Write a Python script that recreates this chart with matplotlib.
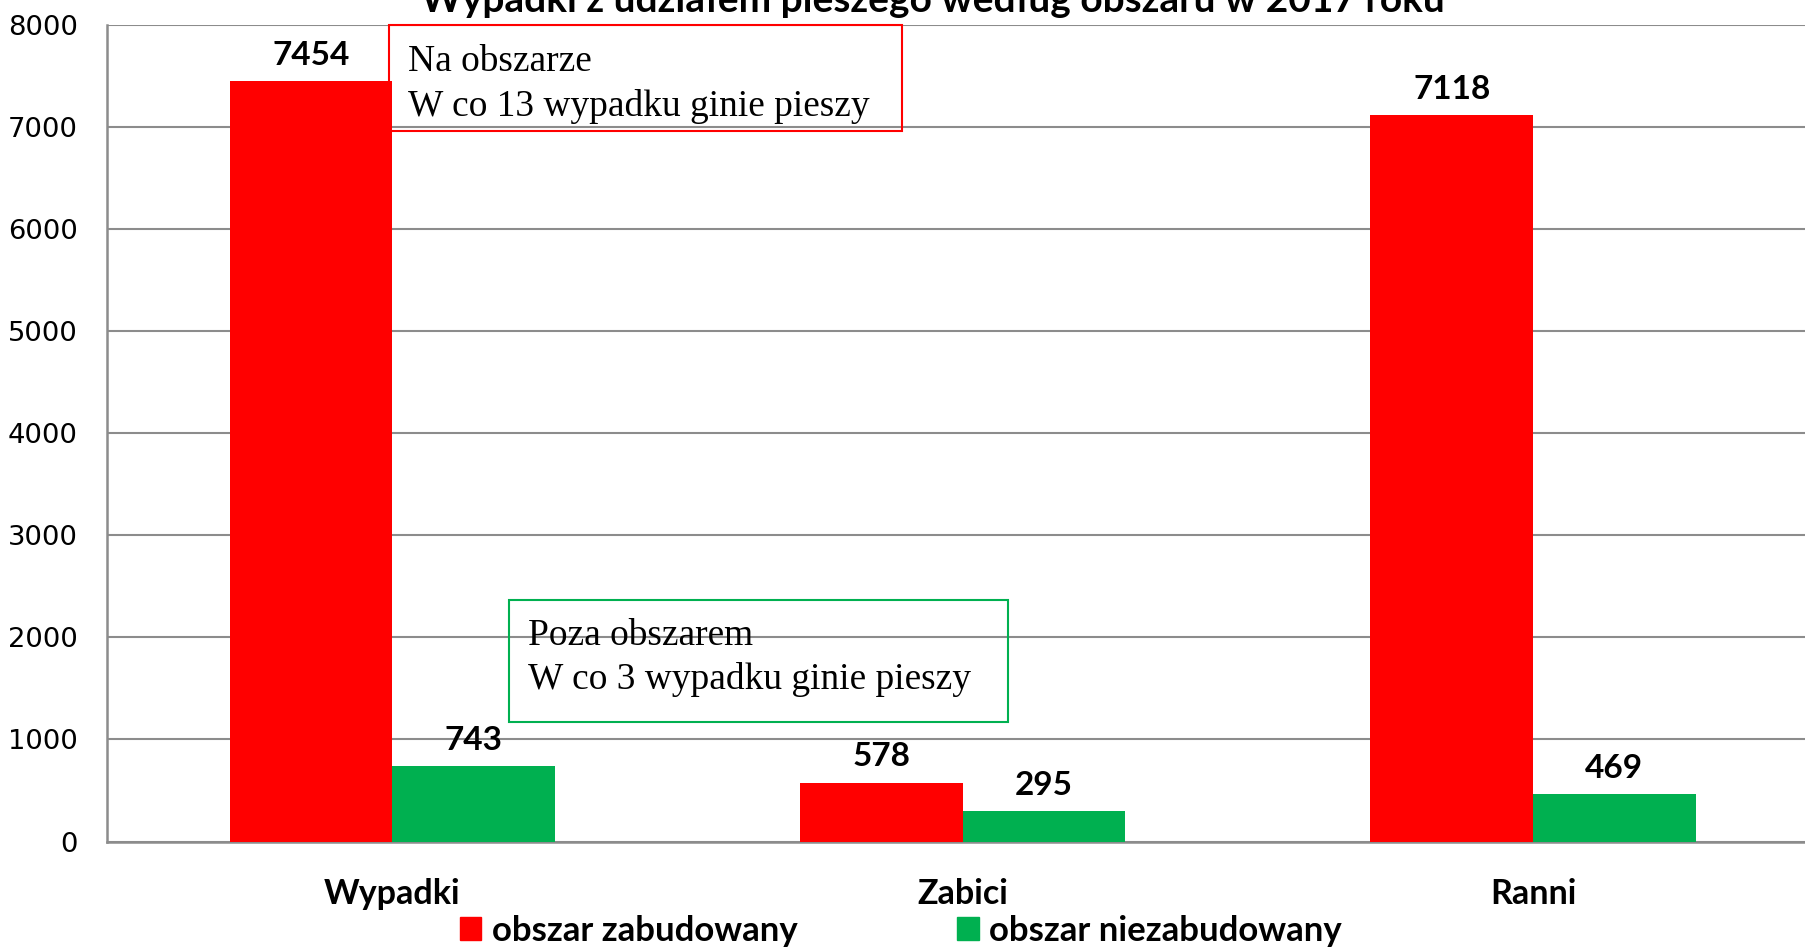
import matplotlib

matplotlib.use("Agg")
import matplotlib.pyplot as plt
import numpy as np
from matplotlib.patches import Patch, Rectangle

categories = ["Wypadki", "Zabici", "Ranni"]
zabudowany = [7454, 578, 7118]
niezabudowany = [743, 295, 469]
series_labels = ["obszar zabudowany", "obszar niezabudowany"]
yticks = [0, 1000, 2000, 3000, 4000, 5000, 6000, 7000, 8000]

RED = "#FF0000"
GREEN = "#00B050"
GRID = "#8C8C8C"
BOLD_FONT = ["Lato", "DejaVu Sans"]
SERIF = "Liberation Serif"

fig = plt.figure(figsize=(18.05, 9.47), dpi=100)
ax = fig.add_axes([0.0593, 0.1114, 0.948, 0.862])

x = np.arange(len(categories))
width = 0.285
ax.bar(x - width / 2, zabudowany, width, color=RED, zorder=3)
ax.bar(x + width / 2, niezabudowany, width, color=GREEN, zorder=3)

for xs, vals in ((x - width / 2, zabudowany), (x + width / 2, niezabudowany)):
    for xi, v in zip(xs, vals):
        ax.annotate(f"{v}", (xi, v), xytext=(0, 8), textcoords="offset points",
                    ha="center", va="bottom", fontsize=24, fontweight="bold",
                    family=BOLD_FONT)

ax.set_xlim(-0.5, 2.5)
ax.set_ylim(0, 8000)
ax.set_yticks(yticks)
ax.set_yticklabels([str(t) for t in yticks], fontsize=19.7, family="DejaVu Sans")
ax.set_xticks(x)
ax.set_xticklabels(categories, fontsize=24.5, fontweight="bold", family=BOLD_FONT)
ax.tick_params(axis="x", length=0, pad=26)
ax.tick_params(axis="y", length=0, pad=21)
ax.yaxis.grid(True, color=GRID, lw=1.5, zorder=0)
ax.set_axisbelow(True)
for side in ("top", "right"):
    ax.spines[side].set_visible(False)
for side in ("left", "bottom"):
    ax.spines[side].set_color(GRID)
    ax.spines[side].set_linewidth(1.8)

# ramki z komentarzem
ax.add_patch(Rectangle((0.1648, 0.8705), 0.2998, 0.1299, transform=ax.transAxes,
                       fill=False, edgecolor=RED, lw=1.5, zorder=5, clip_on=False))
ax.text(0.176, (841.5 - 71) / 816.2, "Na obszarze", transform=ax.transAxes,
        fontsize=26.9, family=SERIF, va="baseline", zorder=6)
ax.text(0.176, (841.5 - 116) / 816.2, "W co 13 wypadku ginie pieszy", transform=ax.transAxes,
        fontsize=26.9, family=SERIF, va="baseline", zorder=6)

ax.add_patch(Rectangle((0.235, 0.1464), 0.2916, 0.1495, transform=ax.transAxes,
                       fill=False, edgecolor=GREEN, lw=1.5, zorder=5, clip_on=False))
ax.text(0.2461, (841.5 - 645) / 816.2, "Poza obszarem", transform=ax.transAxes,
        fontsize=26.9, family=SERIF, va="baseline", zorder=6)
ax.text(0.2461, (841.5 - 689.5) / 816.2, "W co 3 wypadku ginie pieszy", transform=ax.transAxes,
        fontsize=26.9, family=SERIF, va="baseline", zorder=6)

# tytul jest przyciety u gory, tak jak w oryginale
fig.text(0.517, 1 - 12 / 947, "Wypadki z udziałem pieszego według obszaru w 2017 roku",
         ha="center", va="baseline", fontsize=28, fontweight="bold", family=BOLD_FONT)

handles = [Patch(color=RED), Patch(color=GREEN)]
fig.legend(handles, series_labels, loc="center", bbox_to_anchor=(0.499, 0.017),
           ncol=2, frameon=False, handlelength=0.62, handleheight=0.62,
           handletextpad=0.3, columnspacing=4.6, borderpad=0.1,
           prop={"family": BOLD_FONT, "weight": "bold", "size": 25})

fig.savefig("out.png", dpi=100)
